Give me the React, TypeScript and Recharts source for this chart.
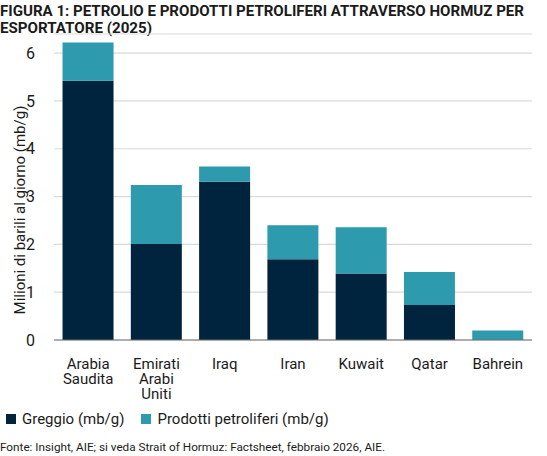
import { BarChart, Bar, XAxis, YAxis, CartesianGrid } from 'recharts';

// Valori (mb/g)
const countries = ['Arabia\nSaudita', 'Emirati\nArabi\nUniti', 'Iraq', 'Iran', 'Kuwait', 'Qatar', 'Bahrein'];
const crude = [5.42, 2.01, 3.31, 1.69, 1.39, 0.73, 0];
const products = [0.8, 1.23, 0.32, 0.71, 0.97, 0.69, 0.2];
const yTicks = [0, 1, 2, 3, 4, 5, 6];

const series = [
  { key: 'crude', name: 'Greggio (mb/g)', color: '#00233e' },
  { key: 'products', name: 'Prodotti petroliferi (mb/g)', color: '#2d9aad' },
];

const data = countries.map((c, i) => ({ country: c, crude: crude[i], products: products[i] }));

const FONT = 'Roboto, "Liberation Sans", sans-serif';
const TEXT = '#1b1b1b';

// etichette su più righe, una <text> per riga
function CountryTick(props: any) {
  const { x, y, payload } = props;
  const lines = String(payload.value).split('\n');
  return (
    <g>
      {lines.map((l, i) => (
        <text key={i} x={x} y={y + 29 + i * 15} textAnchor="middle" fill={TEXT} fontSize={15} fontFamily={FONT}>
          {l}
        </text>
      ))}
    </g>
  );
}

export default function App() {
  return (
    <div style={{ position: 'absolute', left: 0, top: 0, width: 547, height: 456, background: '#fff', fontFamily: FONT }}>
      <svg width={547} height={40} style={{ position: 'absolute', left: 0, top: 0 }}>
        <text x={0} y={16} fontSize={15} fontWeight={700} fill={TEXT} fontFamily={FONT} textLength={524} lengthAdjust="spacingAndGlyphs">
          FIGURA 1: PETROLIO E PRODOTTI PETROLIFERI ATTRAVERSO HORMUZ PER
        </text>
        <text x={0} y={33} fontSize={15} fontWeight={700} fill={TEXT} fontFamily={FONT} textLength={152} lengthAdjust="spacingAndGlyphs">
          ESPORTATORE (2025)
        </text>
      </svg>

      <div style={{ position: 'absolute', left: 0, top: 0 }}>
        <BarChart width={547} height={410} data={data} margin={{ top: 34, right: 15, bottom: 0, left: 0 }} barCategoryGap="12.5%">
          <CartesianGrid vertical={false} stroke="#dadada" strokeWidth={1.2} />
          <XAxis
            dataKey="country"
            interval={0}
            height={70}
            tickLine={false}
            tickSize={0}
            tickMargin={0}
            axisLine={{ stroke: '#6e6e6e', strokeWidth: 1.2 }}
            tick={<CountryTick />}
          />
          <YAxis
            width={54}
            domain={[0, 6.4]}
            ticks={yTicks}
            axisLine={false}
            tickLine={false}
            tickSize={0}
            tickMargin={19}
            tick={{ fill: TEXT, fontSize: 16, fontFamily: FONT }}
            label={{
              content: () => (
                <text x={20} y={210} transform="rotate(-90 20 210)" textAnchor="middle" dominantBaseline="central" fill={TEXT} fontSize={15} fontFamily={FONT}>
                  Milioni di barili al giorno (mb/g)
                </text>
              ),
            }}
          />
          {series.map((s) => (
            <Bar key={s.key} dataKey={s.key} name={s.name} stackId="a" fill={s.color} isAnimationActive={false} />
          ))}
        </BarChart>
      </div>

      <div style={{ position: 'absolute', left: 6, top: 410, display: 'flex', alignItems: 'center', fontSize: 15, color: TEXT, lineHeight: '18px' }}>
        {series.map((s, i) => (
          <div key={s.key} style={{ display: 'flex', alignItems: 'center', marginRight: i === 0 ? 17 : 0 }}>
            <span style={{ width: 10, height: 10, background: s.color, display: 'inline-block', marginRight: 6 }} />
            <span>{s.name}</span>
          </div>
        ))}
      </div>

      <svg width={547} height={20} style={{ position: 'absolute', left: 0, top: 436 }}>
        <text x={0} y={15} fontSize={11} fill={TEXT} fontFamily={FONT} textLength={385} lengthAdjust="spacingAndGlyphs">
          Fonte: Insight, AIE; si veda Strait of Hormuz: Factsheet, febbraio 2026, AIE.
        </text>
      </svg>
    </div>
  );
}
